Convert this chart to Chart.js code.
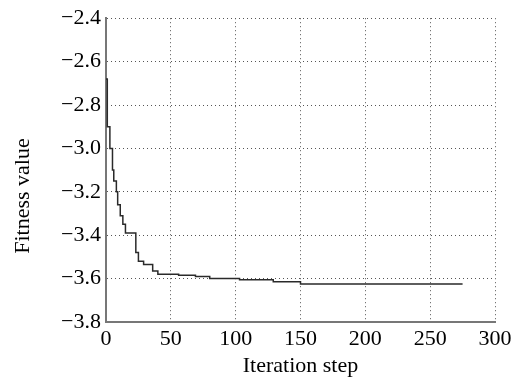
<!DOCTYPE html>
<html>
<head>
<meta charset="utf-8">
<script src="https://cdn.jsdelivr.net/npm/chart.js@4"></script>
<style>
  html, body { margin: 0; padding: 0; background: #fff; }
  #wrap { width: 527px; height: 379px; }
</style>
</head>
<body>
<div id="wrap"><canvas id="chart"></canvas></div>
<script>
// iteration where the best fitness changes, and the new value
const iterations = [0, 1, 3, 5, 6, 8, 9, 11, 13, 15, 23, 25, 29, 36, 40, 56, 69, 80, 103, 129, 150, 275];
const fitness = [-2.68, -2.90, -3.00, -3.10, -3.15, -3.20, -3.26, -3.31, -3.35, -3.39, -3.48, -3.52,
                 -3.535, -3.565, -3.58, -3.585, -3.59, -3.60, -3.605, -3.615, -3.625, -3.625];
const xTicks = [0, 50, 100, 150, 200, 250, 300];
const yTicks = [-3.8, -3.6, -3.4, -3.2, -3.0, -2.8, -2.6, -2.4];

const serif = "'Liberation Serif', 'DejaVu Serif', serif";

const yTitle = {
    id: 'yTitle',
    afterDraw(chart) {
        const ctx = chart.ctx;
        ctx.save();
        ctx.translate(23, 196);
        ctx.rotate(-Math.PI / 2);
        ctx.font = "22px " + serif;
        ctx.fillStyle = '#000';
        ctx.textAlign = 'center';
        ctx.textBaseline = 'middle';
        ctx.fillText('Fitness value', 0, 0);
        ctx.restore();
    }
};

new Chart(document.getElementById('chart'), {
    type: 'line',
    data: {
        datasets: [{
            data: iterations.map((x, i) => ({ x: x, y: fitness[i] })),
            borderColor: '#2a2a2a',
            borderWidth: 1.5,
            pointRadius: 0,
            stepped: 'before',
            fill: false
        }]
    },
    options: {
        responsive: true,
        maintainAspectRatio: false,
        animation: false,
        layout: { padding: { left: 0, right: 32, top: 14, bottom: 0 } },
        plugins: { legend: { display: false }, tooltip: { enabled: false } },
        scales: {
            x: {
                type: 'linear',
                min: 0,
                max: 300,
                afterFit: (s) => { s.height = 57; },
                afterBuildTicks: (s) => { s.ticks = xTicks.map(v => ({ value: v })); },
                grid: { color: '#555', lineWidth: 1, drawTicks: false },
                border: { color: '#777', width: 2, dash: [1, 3] },
                ticks: { color: '#000', padding: 4, font: { family: serif, size: 22 } },
                title: {
                    display: true,
                    text: 'Iteration step',
                    color: '#000',
                    font: { family: serif, size: 22 },
                    padding: { top: 0, bottom: 0 }
                }
            },
            y: {
                min: -3.8,
                max: -2.4,
                afterFit: (s) => { s.width = 106; },
                afterBuildTicks: (s) => { s.ticks = yTicks.map(v => ({ value: v })); },
                grid: { color: '#555', lineWidth: 1, drawTicks: false },
                border: { color: '#777', width: 2, dash: [1, 3] },
                ticks: {
                    color: '#000',
                    padding: 5,
                    font: { family: serif, size: 22 },
                    callback: (v) => '\u2212' + Math.abs(v).toFixed(1)
                }
            }
        }
    },
    plugins: [yTitle]
});
</script>
</body>
</html>
